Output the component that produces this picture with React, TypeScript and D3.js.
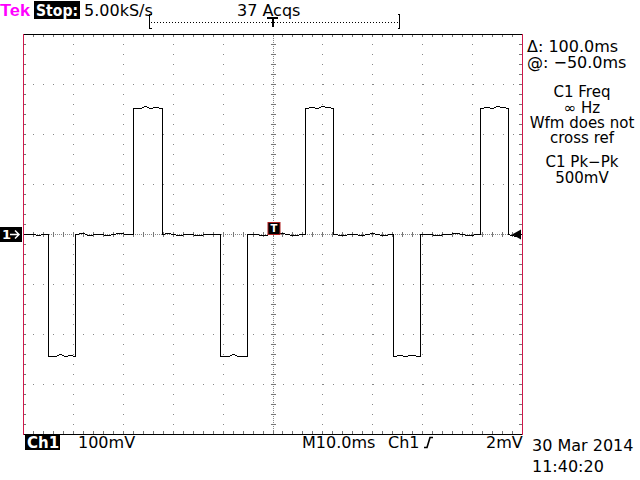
import React from "react";
import * as d3 from "d3";

// Time (ms from left edge of screen) and voltage (mV) of the captured trace
const traceTimes = [
  0, 2, 3, 4, 5.0, 5.0, 6.5, 7.5, 8.5, 9.5, 10.4, 10.4, 12, 13, 15, 17, 19, 21, 22.0, 22.0, 23.5, 24.5, 25.5, 26.5, 27.9, 27.9,
  29, 31, 33, 35, 37, 39.5, 39.5, 41, 42, 43, 44.9, 44.9, 46, 48, 50, 52, 54, 56.5, 56.5, 58, 59, 60, 62.1, 62.1,
  64, 66, 68, 70, 72, 74.1, 74.1, 75.5, 76.5, 77.5, 79.6, 79.6, 81, 83, 85, 87, 89, 91.6, 91.6, 93, 94, 95, 97.2, 97.2, 98.5, 100,
];
const traceMV = [
  0, 1, -1, 1, 0, -244, -244, -240, -244, -241, -244, 0, 2, -1, 1, -1, 2, 0, 0, 252, 252, 256, 252, 255, 252, 0,
  2, -1, 1, -1, 1, 0, -244, -244, -240, -244, -244, 0, 1, -1, 1, 2, -1, 0, 252, 255, 252, 256, 252, 0,
  -1, 1, -1, 2, -1, 0, -244, -241, -244, -241, -244, 0, 1, -1, 1, 2, -1, 0, 252, 255, 252, 256, 252, 0, -4, 0,
];

const headerTexts = ["5.00kS/s", "37 Acqs"];
const cursorTexts = ["Δ: 100.0ms", "@: −50.0ms"];
const measureTexts = ["C1 Freq", "∞ Hz", "Wfm does not", "cross ref", "C1 Pk−Pk", "500mV"];
const footerTexts = ["100mV", "M10.0ms", "Ch1", "2mV"];
const dateTexts = ["30 Mar 2014", "11:40:20"];

const timeDomain = [0, 100];
const voltDomain = [-400, 400];
const timeDivs = d3.range(0, 101, 10);
const timeMinor = d3.range(0, 101, 2);
const voltDivs = d3.range(-400, 401, 100);
const voltMinor = d3.range(-400, 401, 20);

const FONT = "DejaVu Sans, Verdana, sans-serif";
const RED = "#d0184a";

export default function App() {
  const L = 23, R = 522, T = 34, B = 434;
  const x = d3.scaleLinear().domain(timeDomain).range([L, R]);
  const y = d3.scaleLinear().domain(voltDomain).range([B, T]);
  const cx = x(50), cy = y(0);
  const pts: [number, number][] = traceTimes.map((t, i) => [t, traceMV[i]]);
  const line = d3.line<[number, number]>().x((d) => Math.round(x(d[0])) + 0.5).y((d) => Math.round(y(d[1])) + 0.5);
  const px = (v: number) => Math.round(v) + 0.5;

  return (
    <svg width={640} height={480} style={{ position: "absolute", left: 0, top: 0, background: "#fff" }} fontFamily={FONT}>
      <rect x={0} y={0} width={640} height={480} fill="#fff" />
      {/* header */}
      <text x={0} y={16} fontSize={16} fontWeight="bold" fill="#ff00ff" fontFamily="Liberation Sans, Arial, sans-serif" textLength={30} lengthAdjust="spacingAndGlyphs">Tek</text>
      <rect x={34} y={1} width={46} height={18} fill="#000" />
      <text x={36} y={16} fontSize={15} fontWeight="bold" fill="#fff" textLength={42} lengthAdjust="spacingAndGlyphs">Stop:</text>
      <text x={84} y={16} fontSize={16} fill="#000">{headerTexts[0]}</text>
      <text x={237} y={16} fontSize={16} fill="#000">{headerTexts[1]}</text>
      {/* record bracket */}
      <g stroke="#000" strokeWidth={1} fill="none" shapeRendering="crispEdges">
        <path d={`M151.5,14.5 H149.5 V28.5 H151.5`} />
        <path d={`M397.5,14.5 H399.5 V28.5 H397.5`} />
        <line x1={151} x2={398} y1={22.5} y2={22.5} strokeDasharray="1 2" />
        <line x1={267} x2={278} y1={17.5} y2={17.5} strokeWidth={2} />
        <line x1={272.5} x2={272.5} y1={17} y2={27} strokeWidth={2} />
      </g>
      {/* graticule */}
      <g shapeRendering="crispEdges" fill="none">
        {timeDivs.slice(1, -1).filter((t) => t !== 50).map((t) => (
          <line key={"vx" + t} x1={px(x(t))} x2={px(x(t))} y1={T + 10} y2={B} stroke="#888" strokeDasharray="1 9" />
        ))}
        {voltDivs.slice(1, -1).filter((v) => v !== 0).map((v) => (
          <line key={"hy" + v} y1={px(y(v))} y2={px(y(v))} x1={L + 10} x2={R} stroke="#888" strokeDasharray="1 9" />
        ))}
        <line x1={px(cx)} x2={px(cx)} y1={T} y2={B} stroke="#888" strokeDasharray="1 1" />
        <line y1={px(cy)} y2={px(cy)} x1={L} x2={R} stroke="#888" strokeDasharray="1 1" />
        {timeMinor.map((t) => (
          <g key={"tm" + t} stroke="#777">
            <line x1={px(x(t))} x2={px(x(t))} y1={cy - 2} y2={cy + 3} />
            <line x1={px(x(t))} x2={px(x(t))} y1={T} y2={T + 3} />
            <line x1={px(x(t))} x2={px(x(t))} y1={B - 3} y2={B} />
          </g>
        ))}
        {voltMinor.map((v) => (
          <g key={"vm" + v} stroke="#777">
            <line y1={px(y(v))} y2={px(y(v))} x1={cx - 2} x2={cx + 3} />
            <line y1={px(y(v))} y2={px(y(v))} x1={L} x2={L + 3} />
            <line y1={px(y(v))} y2={px(y(v))} x1={R - 3} x2={R} />
          </g>
        ))}
        <line x1={L} x2={R} y1={T + 0.5} y2={T + 0.5} stroke="#000" />
        <line x1={L} x2={R} y1={B + 0.5} y2={B + 0.5} stroke="#000" />
        <line x1={L + 0.5} x2={L + 0.5} y1={T} y2={B + 1} stroke={RED} />
        <line x1={R + 0.5} x2={R + 0.5} y1={T} y2={B + 1} stroke={RED} />
      </g>
      {/* trace */}
      <path d={line(pts) || ""} fill="none" stroke="#000" strokeWidth={1} shapeRendering="crispEdges" />
      {/* channel marker */}
      <rect x={0} y={cy - 7} width={22} height={15} fill="#000" />
      <text x={2} y={cy + 5} fontSize={13} fontWeight="bold" fill="#fff">1</text>
      <path d={`M10,${cy + 0.5} H19 M15,${cy - 3.5} L19,${cy + 0.5} L15,${cy + 4.5}`} stroke="#fff" strokeWidth={1.5} fill="none" />
      {/* trigger point marker */}
      <rect x={cx - 4.5} y={cy - 11.5} width={12} height={12} fill="#000" stroke="#b02020" />
      <text x={cx + 1.5} y={cy - 2} fontSize={10} fontWeight="bold" fill="#fff" textAnchor="middle">T</text>
      {/* trigger level marker */}
      <path d={`M${R - 10},${cy + 0.5} L${R - 1},${cy - 4.5} L${R - 1},${cy + 5.5} Z`} fill="#000" />
      {/* cursor readouts */}
      <text x={527} y={52} fontSize={16} fill="#000">{cursorTexts[0]}</text>
      <text x={527} y={68} fontSize={16} fill="#000">{cursorTexts[1]}</text>
      {measureTexts.map((t, i) => (
        <text key={t} x={582} y={[97, 113, 128, 143, 167, 183][i]} fontSize={15} fill="#000" textAnchor="middle">{t}</text>
      ))}
      {/* footer */}
      <rect x={25} y={435} width={35} height={15} fill="#000" />
      <text x={27} y={448} fontSize={15} fontWeight="bold" fill="#fff">Ch1</text>
      <text x={78} y={448} fontSize={16} fill="#000">{footerTexts[0]}</text>
      <text x={302} y={448} fontSize={16} fill="#000">{footerTexts[1]}</text>
      <text x={388} y={448} fontSize={16} fill="#000">{footerTexts[2]}</text>
      <path d="M424,447.5 L427,447.5 L430,437.5 L433,437.5" stroke="#000" strokeWidth={1.6} fill="none" />
      <text x={486} y={448} fontSize={16} fill="#000">{footerTexts[3]}</text>
      <text x={532} y={451} fontSize={16} fill="#000">{dateTexts[0]}</text>
      <text x={532} y={472} fontSize={16} fill="#000">{dateTexts[1]}</text>
    </svg>
  );
}
